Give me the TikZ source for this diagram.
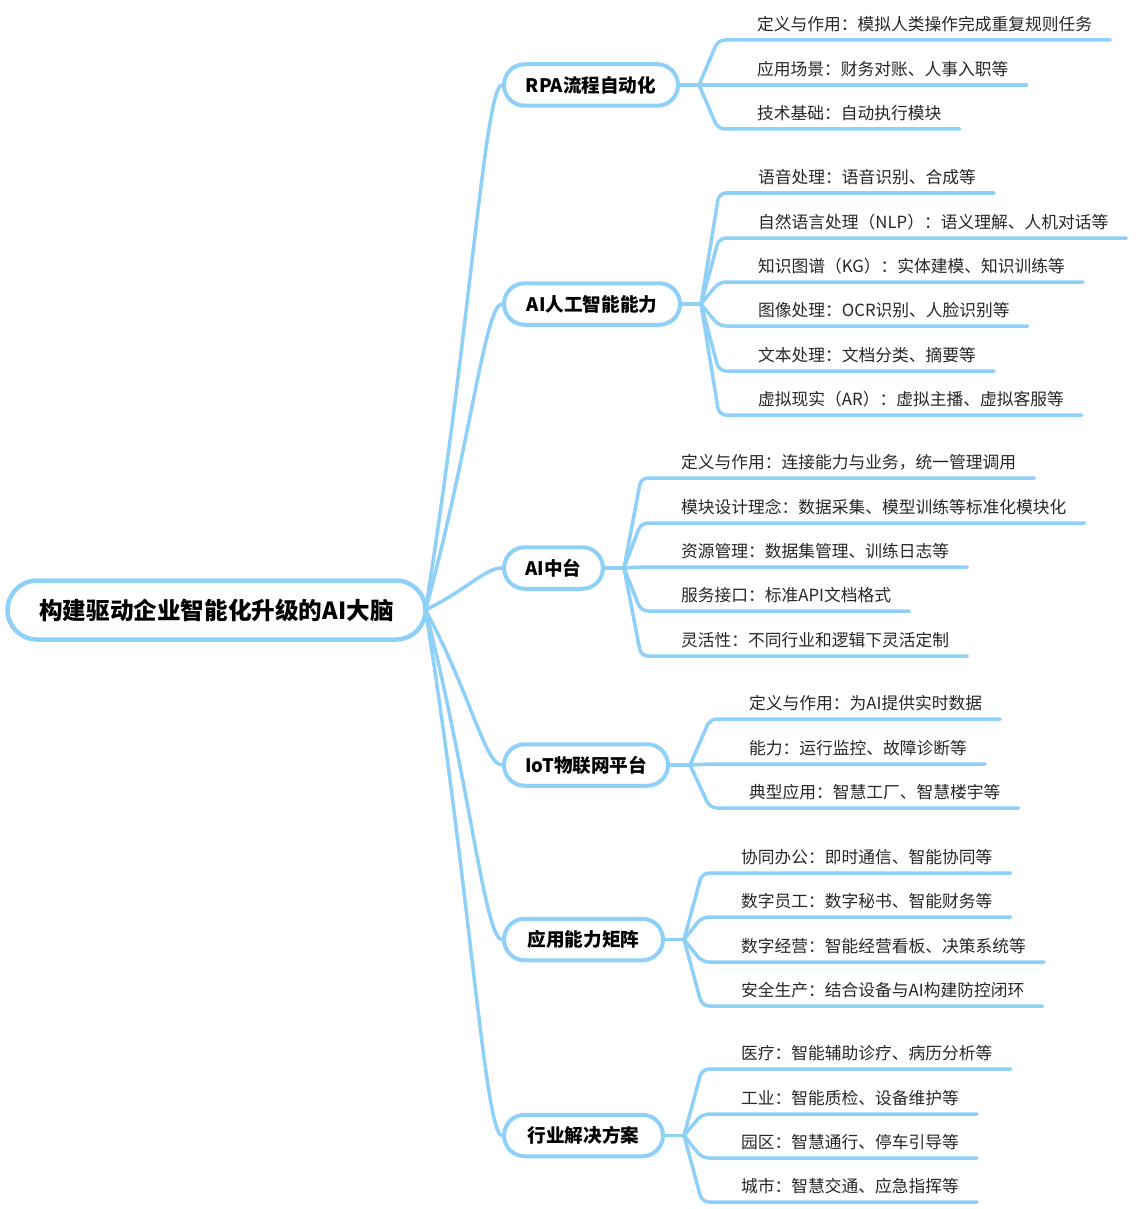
\documentclass[tikz,border=0pt]{standalone}
\usepackage{fontspec}
\setmainfont{Noto Sans CJK SC}
\usetikzlibrary{calc}
\definecolor{lb}{HTML}{8FD0F8}
\tikzset{
  rootbox/.style={draw=lb, line width=4.5pt, rounded corners=29.5pt, minimum height=59pt,
    minimum width=418pt, inner sep=0pt, fill=white,
    font=\fontsize{23.6}{28}\selectfont\bfseries, text=black},
  branchbox/.style={draw=lb, line width=4pt, rounded corners=20.75pt, minimum height=41.5pt,
    inner sep=0pt, anchor=west, fill=white,
    font=\fontsize{18.6}{22}\selectfont\bfseries, text=black},
  leaftext/.style={anchor=base west, inner sep=0pt, font=\fontsize{16.75}{20}\selectfont, text=black!85},
  curveline/.style={draw=lb, line width=3.5pt},
  uline/.style={draw=lb, line width=3.5pt, rounded corners=7pt, line cap=round, line join=round}
}
\begin{document}
\begin{tikzpicture}[x=1pt,y=-1pt]
\useasboundingbox (0,0) rectangle (1135,1209);

% branch-root curves first (underneath)
\coordinate (rj) at (425.5,610);
\foreach \by [count=\k] in {85,304,568,765,939.5,1135.5}{
  \draw[curveline] (rj) .. controls (470,{610+0.53*(\by-610)}) and (485,\by) .. (502,\by);
}

\node[rootbox] (root) at (216.5,610) {构建驱动企业智能化升级的AI大脑};

\node[branchbox, minimum width=174pt] (b1) at (502,85) {RPA流程自动化};
\node[branchbox, minimum width=176pt] (b2) at (502,304) {AI人工智能能力};
\node[branchbox, minimum width=99pt]  (b3) at (502,568) {AI中台};
\node[branchbox, minimum width=164pt] (b4) at (502,765) {IoT物联网平台};
\node[branchbox, minimum width=159pt] (b5) at (502,939.5) {应用能力矩阵};
\node[branchbox, minimum width=159pt] (b6) at (502,1135.5) {行业解决方案};

% junctions
\draw[uline] (b1.east) -- ++(19,0) coordinate (j1);
\draw[uline] (b2.east) -- ++(19,0) coordinate (j2);
\draw[uline] (b3.east) -- ++(19,0) coordinate (j3);
\draw[uline] (b4.east) -- ++(20,0) coordinate (j4);
\draw[uline] (b5.east) -- ++(19,0) coordinate (j5);
\draw[uline] (b6.east) -- ++(19,0) coordinate (j6);

% branch 1
\foreach \ly/\txt [count=\i] in {
  40/定义与作用：模拟人类操作完成重复规则任务,
  85/应用场景：财务对账、人事入职等,
  129/技术基础：自动执行模块}{
  \node[leaftext] (l1-\i) at (757,\ly-9.5) {\txt};
  \draw[uline] (j1) -- (718,\ly) -- ($(l1-\i.east |- 0,\ly)+(18,0)$);
}
% branch 2
\foreach \ly/\txt [count=\i] in {
  193/语音处理：语音识别、合成等,
  238/自然语言处理（NLP）：语义理解、人机对话等,
  282/知识图谱（KG）：实体建模、知识训练等,
  326/图像处理：OCR识别、人脸识别等,
  371/文本处理：文档分类、摘要等,
  415/虚拟现实（AR）：虚拟主播、虚拟客服等}{
  \node[leaftext] (l2-\i) at (758,\ly-9.5) {\txt};
  \draw[uline] (j2) -- (719,\ly) -- ($(l2-\i.east |- 0,\ly)+(18,0)$);
}
% branch 3
\foreach \ly/\txt [count=\i] in {
  478/定义与作用：连接能力与业务，统一管理调用,
  523/模块设计理念：数据采集、模型训练等标准化模块化,
  567/资源管理：数据集管理、训练日志等,
  611/服务接口：标准API文档格式,
  656/灵活性：不同行业和逻辑下灵活定制}{
  \node[leaftext] (l3-\i) at (681,\ly-9.5) {\txt};
  \draw[uline] (j3) -- (641,\ly) -- ($(l3-\i.east |- 0,\ly)+(18,0)$);
}
% branch 4
\foreach \ly/\txt [count=\i] in {
  719/定义与作用：为AI提供实时数据,
  764/能力：运行监控、故障诊断等,
  808/典型应用：智慧工厂、智慧楼宇等}{
  \node[leaftext] (l4-\i) at (749,\ly-9.5) {\txt};
  \draw[uline] (j4) -- (710,\ly) -- ($(l4-\i.east |- 0,\ly)+(18,0)$);
}
% branch 5
\foreach \ly/\txt [count=\i] in {
  873/协同办公：即时通信、智能协同等,
  917/数字员工：数字秘书、智能财务等,
  962/数字经营：智能经营看板、决策系统等,
  1006/安全生产：结合设备与AI构建防控闭环}{
  \node[leaftext] (l5-\i) at (741,\ly-9.5) {\txt};
  \draw[uline] (j5) -- (702,\ly) -- ($(l5-\i.east |- 0,\ly)+(18,0)$);
}
% branch 6
\foreach \ly/\txt [count=\i] in {
  1069/医疗：智能辅助诊疗、病历分析等,
  1114/工业：智能质检、设备维护等,
  1158/园区：智慧通行、停车引导等,
  1202/城市：智慧交通、应急指挥等}{
  \node[leaftext] (l6-\i) at (741,\ly-9.5) {\txt};
  \draw[uline] (j6) -- (702,\ly) -- ($(l6-\i.east |- 0,\ly)+(18,0)$);
}
\end{tikzpicture}
\end{document}
